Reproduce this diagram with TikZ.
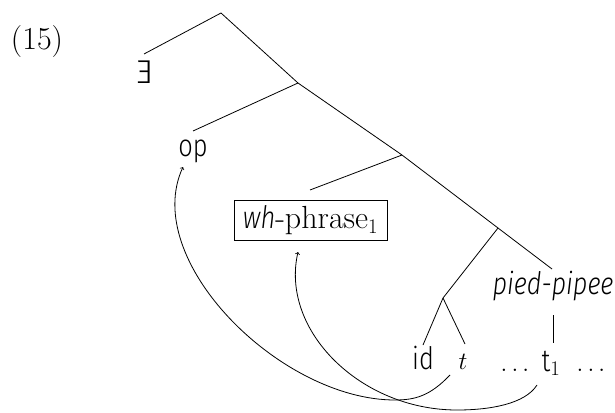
\documentclass[tikz,border=0pt]{standalone}
\usepackage{graphicx}
\usepackage{fontspec}
\newfontfamily\lsf{Fira Sans}[UprightFont={* Light}, ItalicFont={* Light Italic}, FakeStretch=0.82]
\newfontfamily\lsfw{Fira Sans}[UprightFont={* Light}, ItalicFont={* Light Italic}]
\begin{document}
\begin{tikzpicture}[x=1pt,y=-1pt,
  lab/.style={font=\fontsize{32}{38}\selectfont, inner sep=0pt, anchor=base},
  slab/.style={font=\fontsize{31}{37}\selectfont\lsf, inner sep=0pt, anchor=base},
  branch/.style={line width=0.8pt},
  move/.style={line width=0.8pt,->}]
\useasboundingbox (0,0) rectangle (615,412);
\node[lab] (ex) at (37,49) {(15)};
\coordinate (root) at (221,13);
\coordinate (n1) at (298,83);
\coordinate (n2) at (402,155);
\coordinate (n3) at (498,228);
\coordinate (n4) at (443,298);
\node[lab, font=\fontsize{33}{38}\selectfont\lsfw] (E) at (145,83) {\reflectbox{E}};
\node[slab] (op) at (193,156) {op};
\node[font=\fontsize{32}{38}\selectfont, draw, line width=0.8pt, minimum width=153pt, minimum height=40pt, inner sep=0pt] (wh) at (310.5,220) {{\fontsize{31}{37}\lsf\itshape wh}-phrase$_1$};
\node[slab] (pp) at (553,294) {\itshape pied-pipee};
\node[slab] (id) at (423,369) {id};
\node[lab] (t) at (463,369) {$t$};
\node[lab, font=\fontsize{28}{34}\selectfont] (d1) at (515,371) {$\ldots$};
\node[lab] (t1) at (551,371) {{\fontsize{31}{37}\lsf t}$_1$};
\node[lab, font=\fontsize{28}{34}\selectfont] (d2) at (591,371) {$\ldots$};
\coordinate (Eend) at (144,54);
\coordinate (opend) at (193,131);
\coordinate (whend) at (310,190);
\coordinate (ppend) at (552,269);
\coordinate (ppbot) at (553,315);
\coordinate (t1top) at (553,343);
\coordinate (idend) at (423,345);
\coordinate (tend) at (465,344);
\draw[branch] (Eend) -- (root) -- (n1) -- (n2) -- (n3) -- (ppend);
\draw[branch] (n1) -- (opend);
\draw[branch] (n2) -- (whend);
\draw[branch] (n3) -- (n4) -- (idend);
\draw[branch] (n4) -- (tend);
\draw[branch] (ppbot) -- (t1top);
\coordinate (a1s) at (450,375);
\coordinate (a1m) at (395,400);
\coordinate (a1e) at (183,167);
\coordinate (a2s) at (537,385);
\coordinate (a2m) at (457,410);
\coordinate (a2e) at (298,252);
\draw[move] (a1s) .. controls (430,396) and (415,400) .. (a1m) .. controls (280,400) and (140,260) .. (a1e);
\draw[move] (a2s) .. controls (525,404) and (490,410) .. (a2m) .. controls (360,410) and (280,330) .. (a2e);
\end{tikzpicture}
\end{document}
